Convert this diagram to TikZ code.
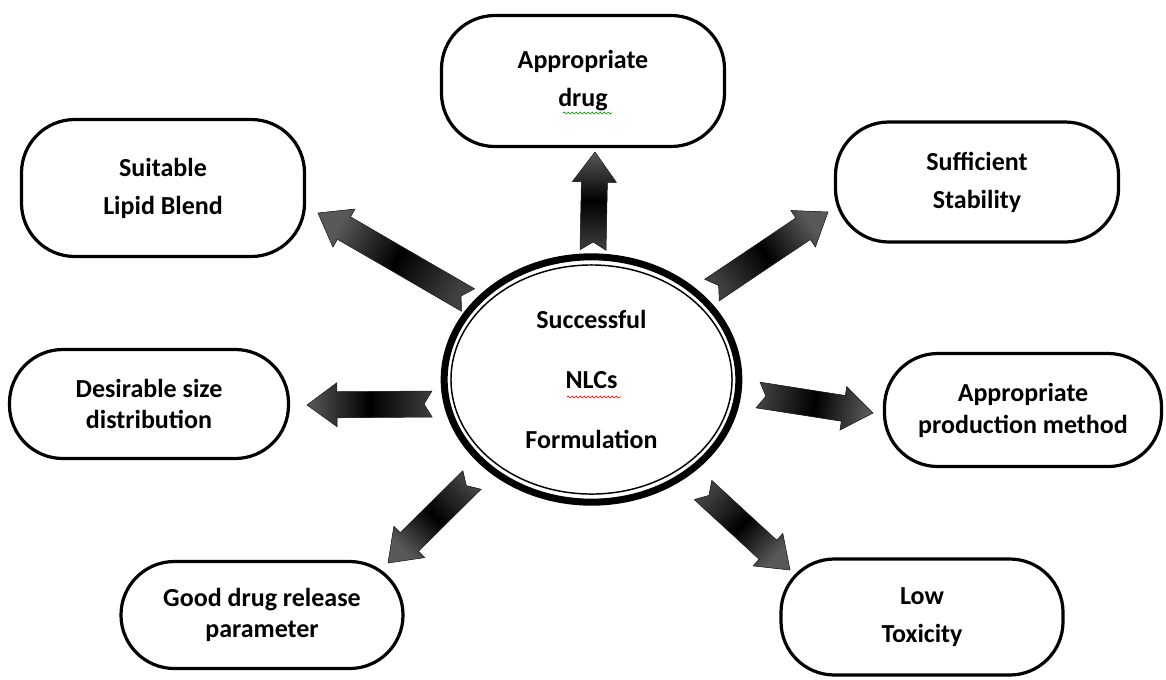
\documentclass[tikz,border=0pt]{standalone}
\usepackage{fontspec}
\setmainfont{Carlito}
\usetikzlibrary{calc,shapes.geometric,decorations.pathmorphing}

% block arrow with notched tail, from tail #2 to tip #3
\newcommand\blockarrow[3][]{%
	\coordinate (#2m) at ($(#3)!22.5pt!(#2)$);
	\fill[#1] ($(#2)!9.75pt!-90:(#3)$) -- ($(#2m)!9.75pt!-90:(#3)$) -- ($(#2m)!16.5pt!-90:(#3)$) -- (#3)
		-- ($(#2m)!16.5pt!90:(#3)$) -- ($(#2m)!9.75pt!90:(#3)$) -- ($(#2)!9.75pt!90:(#3)$) -- ($(#2)!6pt!(#3)$) -- cycle;
}

\begin{document}
\begin{tikzpicture}[x=0.75pt, y=-0.75pt,
		goalbox/.style={draw, line width=2.4pt, rounded corners=40pt, align=center,
				font=\bfseries\fontsize{19.5}{28.5}\selectfont},
		boxsize/.style 2 args={minimum width=#1*0.75pt, minimum height=#2*0.75pt},
		arr/.style={top color=black!65, bottom color=black!75, middle color=black,
				draw=black!85, line width=0.4pt, shading angle=#1},
		squiggle/.style={line width=0.5pt, decorate, decoration={snake, amplitude=0.7pt, segment length=3pt}},
	]
	\path[use as bounding box] (0,0) rectangle (1166,679);

	% centre
	\node[ellipse, draw, line width=5.25pt, minimum width=221pt, minimum height=184pt, align=center,
		font=\bfseries\fontsize{19.5}{45}\selectfont] (nlc) at (591.5,379.5) {Successful\\NLCs\\Formulation};
	\draw[line width=1.1pt] (nlc.center) ellipse [x radius=105.4pt, y radius=85.9pt];

	% outer boxes
	\node[goalbox, boxsize={283}{131}] (drug) at (583,81) {Appropriate\\drug};
	\node[goalbox, boxsize={283}{137}] (lipid) at (163,188) {Suitable\\Lipid Blend};
	\node[goalbox, boxsize={283}{120}] (stab) at (977,182) {Sufficient\\Stability};
	\node[goalbox, boxsize={279}{109}, font=\bfseries\fontsize{19.5}{23}\selectfont] (size) at (149,404) {Desirable size\\distribution};
	\node[goalbox, boxsize={277}{113}, font=\bfseries\fontsize{19.5}{24}\selectfont] (prod) at (1023,410) {Appropriate\\production method};
	\node[goalbox, boxsize={282}{107}, font=\bfseries\fontsize{19.5}{23}\selectfont] (rel) at (262,615) {Good drug release\\parameter};
	\node[goalbox, boxsize={282}{116}] (tox) at (922,617) {Low\\Toxicity};

	% spell check marks
	\draw[squiggle, green!60!black] (563,113) -- (612,113);
	\draw[squiggle, red] (567,397) -- (621,397);

	% arrows
	\coordinate (t1) at (593,250); \coordinate (h1) at (595,152);
	\coordinate (t2) at (468,300); \coordinate (h2) at (318,213);
	\coordinate (t3) at (712,290); \coordinate (h3) at (828,212);
	\coordinate (t4) at (758,395); \coordinate (h4) at (873,413);
	\coordinate (t5) at (432,404); \coordinate (h5) at (307,405);
	\coordinate (t6) at (472,480); \coordinate (h6) at (388,563);
	\coordinate (t7) at (703,490); \coordinate (h7) at (790,570);
	\blockarrow[arr=0]{t1}{h1}
	\blockarrow[arr=60]{t2}{h2}
	\blockarrow[arr=-56]{t3}{h3}
	\blockarrow[arr=-99]{t4}{h4}
	\blockarrow[arr=90]{t5}{h5}
	\blockarrow[arr=135]{t6}{h6}
	\blockarrow[arr=-133]{t7}{h7}
\end{tikzpicture}
\end{document}
